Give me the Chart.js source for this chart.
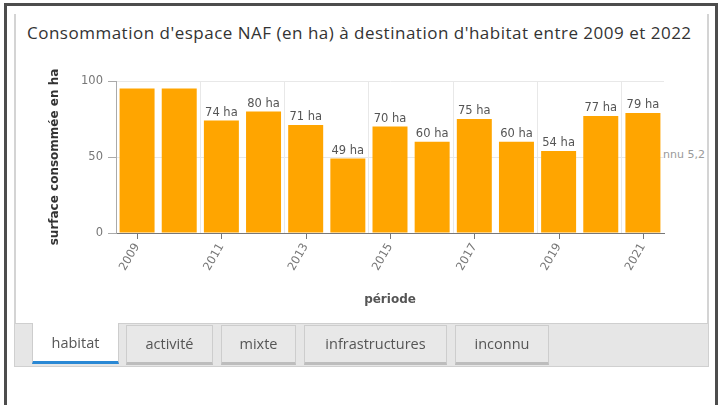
<!DOCTYPE html>
<html lang="fr">
<head>
<meta charset="utf-8">
<script src="https://cdn.jsdelivr.net/npm/chart.js@4/dist/chart.umd.min.js"></script>
<style>
  body { margin: 0; width: 726px; height: 405px; background: #fff; position: relative; overflow: hidden; }
  #cadre { position: absolute; left: 4px; top: 3px; width: 708px; height: 460px; border: 3px solid #4d4d4d; border-bottom: none; }
  #panneau { position: absolute; left: 14px; top: 14px; width: 691px; height: 309px; border-left: 2px solid #d4d4d4; border-right: 2px solid #d4d4d4; border-bottom: 1px solid #cfcfcf; background: #fff; }
  #titre { position: absolute; left: 27px; top: 21px; font: 17px "Open Sans", sans-serif; letter-spacing: 0.5px; color: #333; white-space: nowrap; }
  #zone { position: absolute; left: 15px; top: 48px; width: 692px; height: 276px; }
  #reste { position: absolute; left: 663px; top: 148px; font: 11px "DejaVu Sans", sans-serif; color: #9a9a9a; white-space: nowrap; }
  #onglets { position: absolute; left: 14px; top: 324px; width: 693px; height: 42px; background: #e6e6e6; border: 1px solid #d0d0d0; border-top: none; }
  .onglet { position: absolute; top: 1px; height: 36px; font: 14.5px "Open Sans", sans-serif; line-height: 36px; text-align: center; color: #555; background: #e8e8e8; border: 1px solid #cdcdcd; border-bottom: 3px solid #bdbdbd; box-sizing: content-box; }
  .onglet.actif { top: -1px; height: 38px; line-height: 40px; background: #fff; border-bottom: 3px solid #2a88d4; border-top: none; }
  .onglet:nth-child(1) { left: 17px; width: 85px; }
  .onglet:nth-child(2) { left: 111px; width: 85px; }
  .onglet:nth-child(3) { left: 206px; width: 73px; }
  .onglet:nth-child(4) { left: 289px; width: 141px; }
  .onglet:nth-child(5) { left: 440px; width: 92px; }
</style>
</head>
<body>
<div id="cadre"></div>
<div id="panneau"></div>
<div id="titre">Consommation d'espace NAF (en ha) à destination d'habitat entre 2009 et 2022</div>
<div id="reste">nnu 5,2</div>
<div id="zone"><canvas id="graphique"></canvas></div>
<div id="onglets"></div>

<script>
// années (catégories) et surfaces consommées en ha
const annees = ['2009', '2010', '2011', '2012', '2013', '2014', '2015', '2016', '2017', '2018', '2019', '2020', '2021'];
const surfaces = [95, 95, 74, 80, 71, 49, 70, 60, 75, 60, 54, 77, 79];
const graduationsY = [0, 50, 100];
const onglets = ['habitat', 'activité', 'mixte', 'infrastructures', 'inconnu'];

// barre d'onglets
const barreOnglets = document.getElementById('onglets');
onglets.forEach((nom, i) => {
    const div = document.createElement('div');
    div.className = 'onglet' + (i === 0 ? ' actif' : '');
    div.textContent = nom;
    barreOnglets.appendChild(div);
});

Chart.defaults.font.family = '"DejaVu Sans", sans-serif';

/* étiquettes "xx ha" au-dessus des barres */
const etiquettesHa = {
    id: 'etiquettesHa',
    afterDatasetsDraw(chart) {
        const { ctx, chartArea } = chart;
        const meta = chart.getDatasetMeta(0);
        ctx.save();
        ctx.font = '11.5px "DejaVu Sans"';
        ctx.fillStyle = '#555';
        ctx.textAlign = 'center';
        ctx.textBaseline = 'bottom';
        meta.data.forEach((barre, i) => {
            const y = barre.y - 2;
            if (y - 12 < chartArea.top) return; // masquée si elle sort du graphique
            ctx.fillText(surfaces[i] + ' ha', barre.x, y);
        });
        ctx.restore();
    }
};

/* petits tirets sous l'axe x, au centre des barres étiquetées */
const tiretsX = {
    id: 'tiretsX',
    afterDraw(chart) {
        const axe = chart.scales.x;
        const ctx = chart.ctx;
        ctx.save();
        ctx.strokeStyle = '#777';
        ctx.lineWidth = 1;
        axe.ticks.forEach((t, i) => {
            if (i % 2) return;
            const px = Math.round(axe.getPixelForTick(i)) + 0.5;
            ctx.beginPath();
            ctx.moveTo(px, axe.top);
            ctx.lineTo(px, axe.top + 6);
            ctx.stroke();
        });
        ctx.restore();
    }
};

new Chart(document.getElementById('graphique').getContext('2d'), {
    type: 'bar',
    data: {
        labels: annees,
        datasets: [{
            data: surfaces,
            backgroundColor: '#ffa500',
            barPercentage: 0.83,
            categoryPercentage: 1
        }]
    },
    options: {
        responsive: true,
        maintainAspectRatio: false,
        animation: false,
        devicePixelRatio: 1,
        layout: { padding: { left: 29, right: 43, top: 33, bottom: 13 } },
        plugins: { legend: { display: false }, tooltip: { enabled: false } },
        scales: {
            x: {
                offset: true,
                grid: {
                    offset: true,
                    drawTicks: false,
                    color: ctx => ctx.index % 2 === 0 ? '#e8e8e8' : 'rgba(0,0,0,0)'
                },
                border: { color: '#777' },
                ticks: {
                    autoSkip: false,
                    minRotation: 60,
                    maxRotation: 60,
                    padding: 8,
                    color: '#777',
                    font: { size: 11.5 },
                    callback: (v, i) => i % 2 === 0 ? annees[i] : ''
                },
                title: { display: true, text: 'période', color: '#555', font: { size: 12, weight: 'bold' } },
                afterFit: s => { s.height = 78; }
            },
            y: {
                min: 0,
                max: 100,
                afterBuildTicks: s => { s.ticks = graduationsY.map(v => ({ value: v })); },
                grid: { color: '#e8e8e8', tickColor: '#aaa', tickLength: 8 },
                border: { color: '#aaa' },
                ticks: { padding: 5, color: '#777', font: { size: 11.5 } },
                title: { display: true, text: 'surface consommée en ha', color: '#333', font: { size: 12, weight: 'bold' } },
                afterFit: s => { s.width = 72; }
            }
        }
    },
    plugins: [etiquettesHa, tiretsX]
});
</script>
</body>
</html>
